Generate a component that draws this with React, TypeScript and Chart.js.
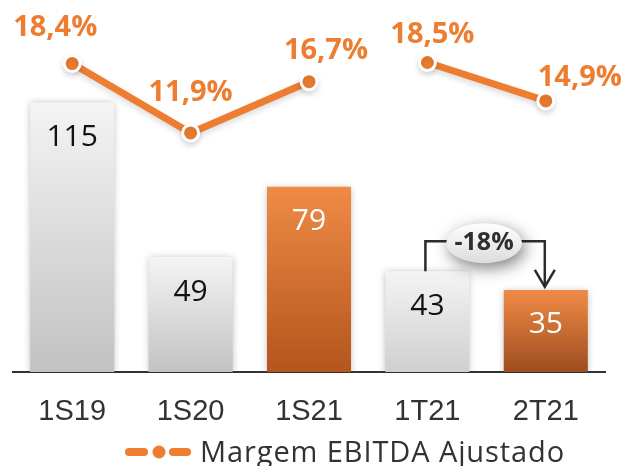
import React, { useEffect, useRef } from "react";
import { Chart, registerables } from "chart.js";

Chart.register(...registerables);

const categories = ["1S19", "1S20", "1S21", "1T21", "2T21"];
const ebitda = [115, 49, 79, 43, 35];
const margin = [18.4, 11.9, 16.7, 18.5, 14.9];
const marginLabels = ["18,4%", "11,9%", "16,7%", "18,5%", "14,9%"];
const highlighted = [false, false, true, false, true];
const variationLabel = "-18%";
const legendLabel = "Margem EBITDA Ajustado";

const ORANGE = "#ed7d31";
const labelOffsets = [
  [-17, -36],
  [0, -40],
  [17, -31],
  [5, -28],
  [34, -23],
];

const shadowPlugin = {
  id: "shadows",
  beforeDatasetDraw(chart: any, args: any) {
    const ctx = chart.ctx;
    ctx.save();
    if (args.index === 0) {
      ctx.shadowColor = "rgba(0,0,0,0.28)";
      ctx.shadowBlur = 7;
      ctx.shadowOffsetX = 0;
      ctx.shadowOffsetY = 1;
    } else {
      ctx.shadowColor = "rgba(0,0,0,0.15)";
      ctx.shadowBlur = 6;
      ctx.shadowOffsetX = 0;
      ctx.shadowOffsetY = 3;
    }
  },
  afterDatasetDraw(chart: any) {
    chart.ctx.restore();
  },
};

const labelsPlugin = {
  id: "valueLabels",
  afterDatasetsDraw(chart: any) {
    const ctx = chart.ctx;
    const bars = chart.getDatasetMeta(0).data;
    const pts = chart.getDatasetMeta(1).data;
    ctx.save();
    ctx.textAlign = "center";
    ctx.textBaseline = "middle";
    ctx.font = '30px "Open Sans"';
    bars.forEach((b: any, i: number) => {
      ctx.fillStyle = highlighted[i] ? "#ffffff" : "#111111";
      ctx.fillText(String(ebitda[i]), b.x, b.y + 35);
    });
    ctx.font = 'bold 29px "Open Sans"';
    ctx.fillStyle = ORANGE;
    pts.forEach((p: any, i: number) => {
      const [dx, dy] = labelOffsets[i];
      ctx.fillText(marginLabels[i], p.x + dx, p.y + dy);
    });
    ctx.restore();
  },
};

const annotationPlugin = {
  id: "variation",
  afterDraw(chart: any) {
    const ctx = chart.ctx;
    const bars = chart.getDatasetMeta(0).data;
    const a = bars[3];
    const b = bars[4];
    const x1 = a.x - 2;
    const x2 = b.x - 1;
    const yTop = a.y - 30;
    ctx.save();
    ctx.strokeStyle = "#2b2b2b";
    ctx.lineWidth = 2.5;
    ctx.beginPath();
    ctx.moveTo(x1, a.y);
    ctx.lineTo(x1, yTop);
    ctx.lineTo(x2, yTop);
    ctx.lineTo(x2, b.y - 3);
    ctx.stroke();
    ctx.beginPath();
    ctx.moveTo(x2 - 10, b.y - 20);
    ctx.lineTo(x2, b.y - 3);
    ctx.lineTo(x2 + 10, b.y - 20);
    ctx.stroke();

    const cx = (x1 + x2) / 2 - 1;
    const cy = yTop + 2;
    ctx.save();
    ctx.shadowColor = "rgba(0,0,0,0.5)";
    ctx.shadowBlur = 16;
    ctx.shadowOffsetX = 3;
    ctx.shadowOffsetY = 5;
    const g = ctx.createLinearGradient(0, cy - 20, 0, cy + 20);
    g.addColorStop(0, "#ffffff");
    g.addColorStop(1, "#dcdcdc");
    ctx.fillStyle = g;
    ctx.beginPath();
    ctx.ellipse(cx, cy, 38, 20, 0, 0, Math.PI * 2);
    ctx.fill();
    ctx.restore();

    ctx.fillStyle = "#2e2e2e";
    ctx.font = 'bold 25px "Open Sans"';
    ctx.textAlign = "center";
    ctx.textBaseline = "middle";
    ctx.fillText(variationLabel, cx, cy);
    ctx.restore();
  },
};

const legendPlugin = {
  id: "customLegend",
  afterDraw(chart: any) {
    const ctx = chart.ctx;
    const y = 452;
    const x0 = 125;
    ctx.save();
    ctx.strokeStyle = ORANGE;
    ctx.lineCap = "round";
    ctx.lineWidth = 8;
    ctx.beginPath();
    ctx.moveTo(x0 + 4, y);
    ctx.lineTo(x0 + 19, y);
    ctx.moveTo(x0 + 48, y);
    ctx.lineTo(x0 + 62, y);
    ctx.stroke();
    ctx.fillStyle = ORANGE;
    ctx.beginPath();
    ctx.arc(x0 + 34, y, 6.5, 0, Math.PI * 2);
    ctx.fill();
    ctx.fillStyle = "#333333";
    ctx.font = '29px "Open Sans"';
    (ctx as any).letterSpacing = "0.9px";
    ctx.textAlign = "left";
    ctx.textBaseline = "alphabetic";
    ctx.fillText(legendLabel, 200, 462);
    ctx.restore();
  },
};

function barGradient(ctx: any) {
  const chart = ctx.chart;
  const i = ctx.dataIndex;
  const hi = highlighted[i];
  if (!chart.chartArea || !chart.scales.y) return hi ? ORANGE : "#dddddd";
  const top = chart.scales.y.getPixelForValue(ebitda[i]);
  const bottom = chart.scales.y.getPixelForValue(0);
  const g = chart.ctx.createLinearGradient(0, top, 0, bottom);
  if (hi) {
    g.addColorStop(0, "#f08b46");
    g.addColorStop(1, i === 4 ? "#9e4d20" : "#b3551d");
  } else {
    g.addColorStop(0, "#f4f4f4");
    g.addColorStop(1, i === 3 ? "#cfcfcf" : "#c2c2c2");
  }
  return g;
}

export default function App() {
  const ref = useRef<HTMLCanvasElement>(null);
  useEffect(() => {
    if (!ref.current) return;
    const chart = new Chart(ref.current, {
      type: "bar",
      data: {
        labels: categories,
        datasets: [
          {
            type: "bar",
            label: "EBITDA",
            data: ebitda,
            backgroundColor: barGradient as any,
            borderWidth: 0,
            categoryPercentage: 1,
            barPercentage: 0.71,
            yAxisID: "y",
            order: 2,
          } as any,
          {
            type: "line",
            label: legendLabel,
            data: margin,
            borderColor: ORANGE,
            borderWidth: 7,
            pointRadius: 8,
            pointBackgroundColor: ORANGE,
            pointBorderColor: "#ffffff",
            pointBorderWidth: 3,
            tension: 0,
            yAxisID: "y2",
            order: 1,
            clip: false,
            segment: {
              borderColor: (c: any) => (c.p0DataIndex === 2 ? "rgba(0,0,0,0)" : ORANGE),
            },
          } as any,
        ],
      },
      options: {
        animation: false,
        responsive: false,
        maintainAspectRatio: false,
        layout: { padding: { left: 13, right: 23, top: 0, bottom: 0 } },
        plugins: {
          legend: { display: false },
          tooltip: { enabled: false },
        },
        scales: {
          x: {
            grid: { display: false, drawTicks: false },
            border: { display: true, color: "#333333", width: 2 },
            ticks: {
              color: "#333333",
              padding: 23,
              font: { family: "Liberation Sans", size: 29 },
            },
            afterFit: (s: any) => {
              s.height = 94;
            },
          },
          y: { display: false, min: 0, max: 153.9 },
          y2: { display: false, min: -10.48, max: 23.32 },
        },
      },
      plugins: [shadowPlugin, labelsPlugin, annotationPlugin, legendPlugin],
    });
    return () => chart.destroy();
  }, []);
  return (
    <div style={{ position: "absolute", left: 0, top: 0, width: 628, height: 466, background: "#ffffff" }}>
      <canvas ref={ref} width={628} height={466} style={{ display: "block" }} />
    </div>
  );
}
